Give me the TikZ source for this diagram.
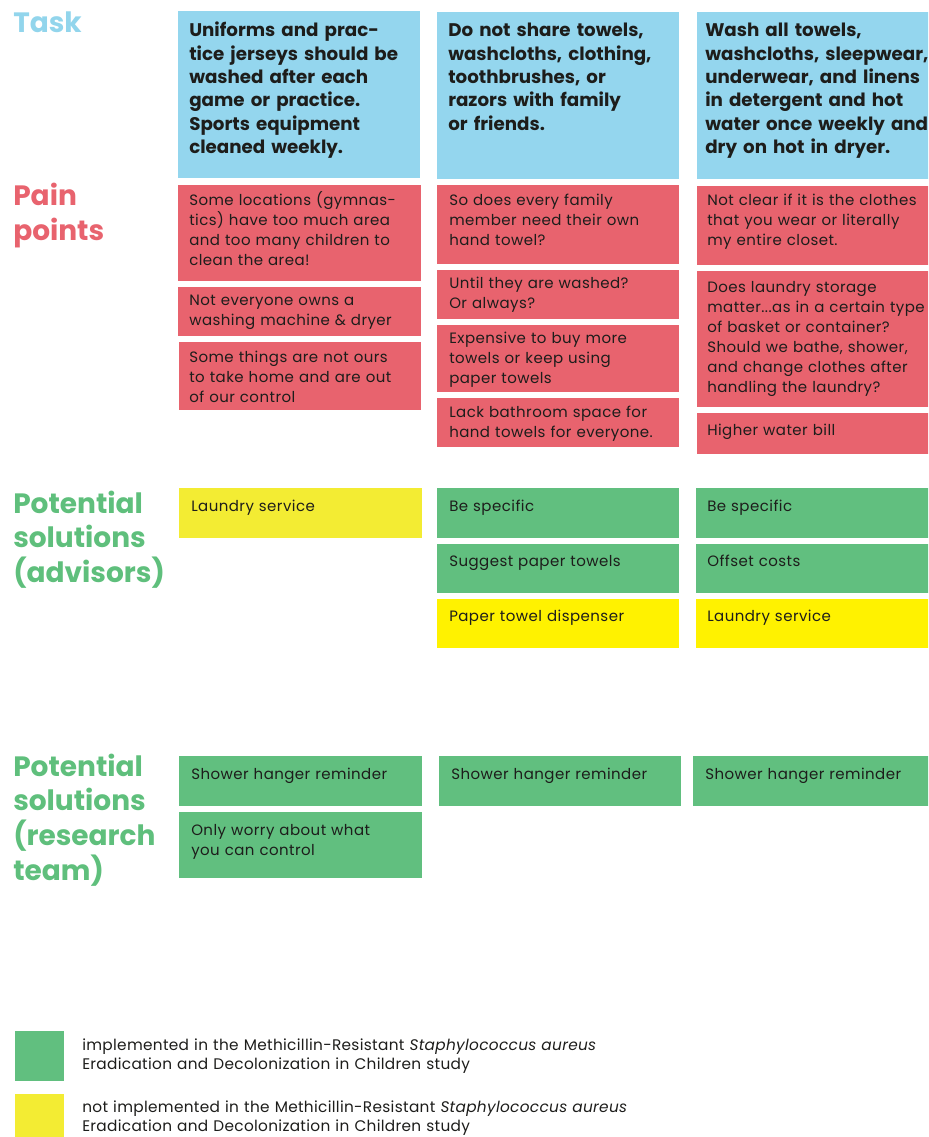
\documentclass[tikz,border=0pt]{standalone}
\usepackage{fontspec}
\setmainfont{Poppins}
\usepackage{tikz}

\definecolor{taskblue}{HTML}{94D6EE}
\definecolor{painred}{HTML}{E8636E}
\definecolor{solgreen}{HTML}{61BF7F}
\definecolor{solyellow}{HTML}{F3EC33}
\definecolor{brightyellow}{HTML}{FFF200}
\definecolor{headblue}{HTML}{92D5EC}
\definecolor{headgreen}{HTML}{5FBF7C}
\definecolor{ink}{HTML}{1D1D1B}

\tikzset{
    headtxt/.style={anchor=base west, inner sep=0pt, align=left, text width=140pt,
        font=\fontsize{21}{26}\selectfont\bfseries},
    tasktxt/.style={anchor=base west, inner sep=0pt, align=left, text width=200pt, text=ink,
        font=\fontsize{13.7}{17.5}\selectfont\bfseries},
    paintxt/.style={anchor=base west, inner sep=0pt, align=left, text width=200pt, text=ink,
        font=\fontsize{11.25}{15}\selectfont\addfontfeatures{LetterSpace=3}},
    legtxt/.style={anchor=base west, inner sep=0pt, align=left, text width=480pt, text=ink,
        font=\fontsize{11.5}{14.5}\selectfont\addfontfeatures{LetterSpace=2}}
}

\begin{document}
\begin{tikzpicture}[x=0.75pt, y=-0.75pt]
        \clip (0,0) rectangle (928,1137);
        % row titles
        \node[headtxt, text=headblue] (hTask) at (13,33) {Task};
        \node[headtxt, text=painred] (hPain) at (13,205.7) {Pain\\points};
        \node[headtxt, text=headgreen] (hAdv) at (13,513) {Potential\\solutions\\(advisors)};
        \node[headtxt, text=headgreen] (hRes) at (13,776) {Potential\\solutions\\(research\\team)};
        % task
        \fill[taskblue] (178,11) rectangle (420,178);
        \fill[taskblue] (437,12) rectangle (679,179);
        \fill[taskblue] (697,12) rectangle (940,179);
        \node[tasktxt] (t1) at (189,37) {Uniforms and prac-\\tice jerseys should be\\washed after each\\game or practice.\\Sports equipment\\cleaned weekly.};
        \node[tasktxt] (t2) at (448,37) {Do not share towels,\\washcloths, clothing,\\toothbrushes, or\\razors with family\\or friends.};
        \node[tasktxt] (t3) at (705,37) {Wash all towels,\\washcloths, sleepwear,\\underwear, and linens\\in detergent and hot\\water once weekly and\\dry on hot in dryer.};
        % pain points
        \fill[painred] (178,185) rectangle (421,281);
        \fill[painred] (178,287) rectangle (421,336);
        \fill[painred] (179,342) rectangle (421,410);
        \fill[painred] (437,185) rectangle (679,264);
        \fill[painred] (437,270) rectangle (679,319);
        \fill[painred] (437,325) rectangle (679,392);
        \fill[painred] (437,398) rectangle (679,447);
        \fill[painred] (697,186) rectangle (940,265);
        \fill[painred] (697,271) rectangle (940,407);
        \fill[painred] (697,413) rectangle (940,454);
        \node[paintxt] (p11) at (189,205.7) {Some locations (gymnas-\\tics) have too much area\\and too many children to\\clean the area!};
        \node[paintxt] (p12) at (189,305.7) {Not everyone owns a\\washing machine \& dryer};
        \node[paintxt] (p13) at (189,362.7) {Some things are not ours\\to take home and are out\\of our control};
        \node[paintxt] (p21) at (449,205.7) {So does every family\\member need their own\\hand towel?};
        \node[paintxt] (p22) at (449,288.7) {Until they are washed?\\Or always?};
        \node[paintxt] (p23) at (449,343.3) {Expensive to buy more\\towels or keep using\\paper towels};
        \node[paintxt] (p24) at (449,417.7) {Lack bathroom space for\\hand towels for everyone.};
        \node[paintxt] (p31) at (707,205.7) {Not clear if it is the clothes\\that you wear or literally\\my entire closet.};
        \node[paintxt] (p32) at (707,292.3) {Does laundry storage\\matter...as in a certain type\\of basket or container?\\Should we bathe, shower,\\and change clothes after\\handling the laundry?};
        \node[paintxt] (p33) at (707,435) {Higher water bill};
        % potential solutions (advisors)
        \fill[solyellow] (179,488) rectangle (422,538);
        \fill[solgreen] (437,488) rectangle (679,538);
        \fill[solgreen] (437,544) rectangle (679,593);
        \fill[brightyellow] (437,599) rectangle (679,648);
        \fill[solgreen] (696,488) rectangle (940,538);
        \fill[solgreen] (696,544) rectangle (940,593);
        \fill[brightyellow] (696,599) rectangle (940,648);
        \node[paintxt] (a11) at (191,511) {Laundry service};
        \node[paintxt] (a21) at (449,511) {Be specific};
        \node[paintxt] (a22) at (449,566) {Suggest paper towels};
        \node[paintxt] (a23) at (449,621) {Paper towel dispenser};
        \node[paintxt] (a31) at (707,511) {Be specific};
        \node[paintxt] (a32) at (707,566) {Offset costs};
        \node[paintxt] (a33) at (707,621) {Laundry service};
        % potential solutions (research team)
        \fill[solgreen] (179,756) rectangle (422,806);
        \fill[solgreen] (179,812) rectangle (422,878);
        \fill[solgreen] (439,756) rectangle (681,806);
        \fill[solgreen] (693,756) rectangle (940,806);
        \node[paintxt] (r11) at (191,779) {Shower hanger reminder};
        \node[paintxt] (r12) at (191,835) {Only worry about what\\you can control};
        \node[paintxt] (r21) at (451,779) {Shower hanger reminder};
        \node[paintxt] (r31) at (705,779) {Shower hanger reminder};
        % legend
        \fill[solgreen] (15,1031) rectangle (64,1081);
        \fill[solyellow] (15,1094) rectangle (64,1145);
        \node[legtxt] (lGreen) at (82,1050) {implemented in the Methicillin-Resistant \textit{Staphylococcus aureus}\\Eradication and Decolonization in Children study};
        \node[legtxt] (lYellow) at (82,1112.5) {not implemented in the Methicillin-Resistant \textit{Staphylococcus aureus}\\Eradication and Decolonization in Children study};
    \end{tikzpicture}
\end{document}
